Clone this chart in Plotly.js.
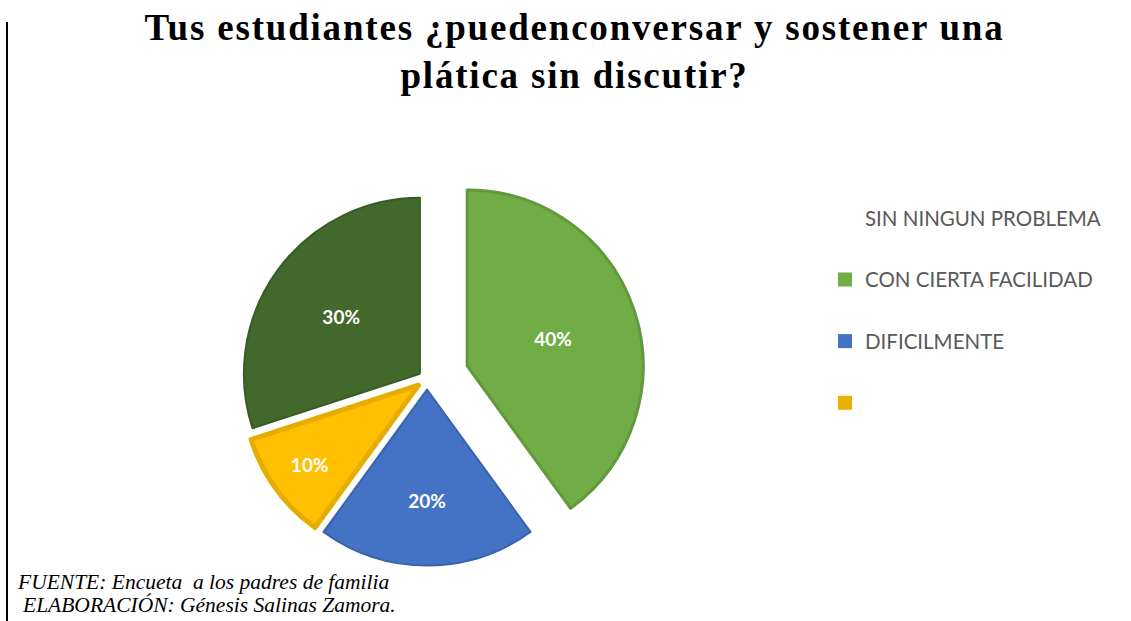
<!DOCTYPE html>
<html>
<head>
<meta charset="utf-8">
<script src="https://cdn.plot.ly/plotly-3.0.1.min.js"></script>
<style>
html,body{margin:0;padding:0;background:#fff;}
#chart{width:1131px;height:621px;}
#chart .gtitle{letter-spacing:1.8px;}
</style>
</head>
<body>
<div id="chart"></div>
<script>
// ---- data ----
const categories = ["SIN NINGUN PROBLEMA", "CON CIERTA FACILIDAD", "DIFICILMENTE", " "];
const percentages = [30, 40, 20, 10];
const sliceColors = ["#43682B", "#70AD47", "#4472C4", "#FFC000"];
const borderColors = ["#3A5B25", "#62993D", "#3B63AC", "#E6AC00"];
const legendMarkerColors = ["rgba(0,0,0,0)", "#70AD47", "#4472C4", "#E8B000"];
const pulls = [0.05, 0.24, 0.06, 0.06];
const titleText = "Tus estudiantes ¿puedenconversar y sostener una<br>plática sin discutir?";
const sourceLines = ["FUENTE: Encueta  a los padres de familia", "ELABORACIÓN: Génesis Salinas Zamora."];

// ---- chart ----
const W = 1131, H = 621;
const cx = 427, cy = 379, R = 176;
const half = R * (1 + Math.max(...pulls));

const pie = {
  type: 'pie',
  labels: categories,
  values: percentages,
  sort: false,
  direction: 'clockwise',
  rotation: 252,
  pull: pulls,
  marker: {colors: sliceColors, line: {color: borderColors, width: [2, 3, 2, 5]}},
  texttemplate: '%{value}%',
  textposition: 'inside',
  insidetextorientation: 'horizontal',
  insidetextfont: {family: 'Lato, sans-serif', size: 19, color: '#FFFFFF', weight: 'bold'},
  showlegend: false,
  hoverinfo: 'skip',
  domain: {x: [(cx - half) / W, (cx + half) / W], y: [(H - cy - half) / H, (H - cy + half) / H]}
};

const legendTraces = categories.map((c, i) => ({
  type: 'scatter', mode: 'markers', x: [null], y: [null],
  name: c, legendgroup: 'g' + i, showlegend: true,
  marker: {symbol: 'square', size: 14, color: legendMarkerColors[i]}
}));

const layout = {
  width: W, height: H,
  margin: {l: 0, r: 0, t: 0, b: 0},
  paper_bgcolor: '#FFFFFF', plot_bgcolor: '#FFFFFF',
  xaxis: {visible: false}, yaxis: {visible: false},
  title: {
    text: titleText, x: 0.508, xanchor: 'center', xref: 'container',
    y: 1 - 40 / H, yanchor: 'top', yref: 'container',
    font: {family: '"Liberation Serif", "Times New Roman", serif', size: 37, color: '#000000', weight: 'bold'}
  },
  showlegend: true,
  legend: {
    x: (845 - 20) / W, xanchor: 'left', y: (H - 198) / H, yanchor: 'top',
    traceorder: 'grouped', tracegroupgap: 32,
    font: {family: 'Lato, sans-serif', size: 20.5, color: '#595959'},
    bgcolor: 'rgba(0,0,0,0)', borderwidth: 0
  },
  shapes: [{type: 'line', xref: 'paper', yref: 'paper', x0: 7 / W, x1: 7 / W, y0: 0, y1: (H - 22) / H,
    line: {color: '#000000', width: 2}}],
  annotations: sourceLines.map((t, i) => ({
    text: t, xref: 'paper', yref: 'paper', x: (i === 0 ? 15 : 20) / W, xanchor: 'left',
    y: (H - (i === 0 ? 582 : 605)) / H, yanchor: 'middle', showarrow: false,
    font: {family: '"Liberation Serif", "Times New Roman", serif', size: 21.5, color: '#000000', style: 'italic'}
  }))
};

Plotly.newPlot('chart', [pie, ...legendTraces], layout, {staticPlot: true, displayModeBar: false});
</script>
</body>
</html>
